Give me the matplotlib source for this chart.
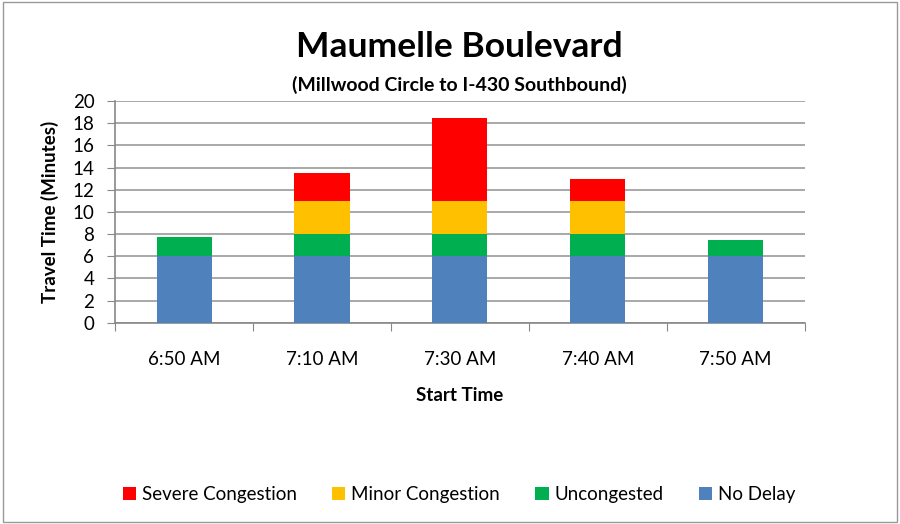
import matplotlib.pyplot as plt
import numpy as np

plt.rcParams['font.family'] = ['Lato', 'DejaVu Sans']

times = ['6:50 AM', '7:10 AM', '7:30 AM', '7:40 AM', '7:50 AM']
no_delay = [6, 6, 6, 6, 6]
uncongested = [1.7, 2, 2, 2, 1.5]
minor = [0, 3, 3, 3, 0]
severe = [0, 2.5, 7.5, 2, 0]

colors = {'No Delay': '#4f81bd', 'Uncongested': '#00b050',
          'Minor Congestion': '#ffc000', 'Severe Congestion': '#ff0000'}

fig = plt.figure(figsize=(9, 5.24), dpi=100)
ax = fig.add_axes([0.128, 0.384, 0.766, 0.423])

x = np.arange(len(times))
w = 0.4
bottom = np.zeros(len(times))
handles = {}
for name, vals in [('No Delay', no_delay), ('Uncongested', uncongested),
                   ('Minor Congestion', minor), ('Severe Congestion', severe)]:
    handles[name] = ax.bar(x, vals, w, bottom=bottom, color=colors[name],
                           label=name, zorder=3)
    bottom += np.array(vals)

ax.set_xlim(-0.5, len(times) - 0.5)
ax.set_ylim(0, 20)
ax.set_yticks(np.arange(0, 21, 2))
ax.yaxis.grid(True, color='#999999', linewidth=1.2, zorder=0)
ax.set_xticks(np.arange(-0.5, len(times), 1))
ax.set_xticklabels([])
ax.set_xticks(x, minor=True)
ax.set_xticklabels(times, minor=True, fontsize=13.5)
ax.tick_params(axis='x', which='minor', length=0, pad=20)
ax.tick_params(axis='x', which='major', length=6, color='#888888')
ax.tick_params(axis='y', length=6, color='#888888', labelsize=13.5, pad=9)
for s in ['top', 'right']:
    ax.spines[s].set_visible(False)
for s in ['left', 'bottom']:
    ax.spines[s].set_color('#888888')
    ax.spines[s].set_linewidth(1.2)

ax.set_xlabel('Start Time', fontsize=13.5, fontweight='bold', labelpad=14)
ax.set_ylabel('Travel Time (Minutes)', fontsize=13.5, fontweight='bold', labelpad=10)

fig.text(0.51, 0.91, 'Maumelle Boulevard', ha='center', va='center',
         fontsize=25.5, fontweight='bold')
fig.text(0.51, 0.838, '(Millwood Circle to I-430 Southbound)', ha='center',
         va='center', fontsize=14, fontweight='bold')

order = ['Severe Congestion', 'Minor Congestion', 'Uncongested', 'No Delay']
fig.legend([handles[k] for k in order], order, loc='center',
           bbox_to_anchor=(0.51, 0.057), ncol=4, frameon=False, fontsize=13.5,
           handlelength=0.7, handleheight=0.7, columnspacing=1.9,
           handletextpad=0.3)

border = plt.Rectangle((0.003, 0.003), 0.994, 0.994, transform=fig.transFigure,
                       fill=False, edgecolor='#999999', linewidth=1)
fig.patches.append(border)

fig.savefig('out.png', dpi=100)
